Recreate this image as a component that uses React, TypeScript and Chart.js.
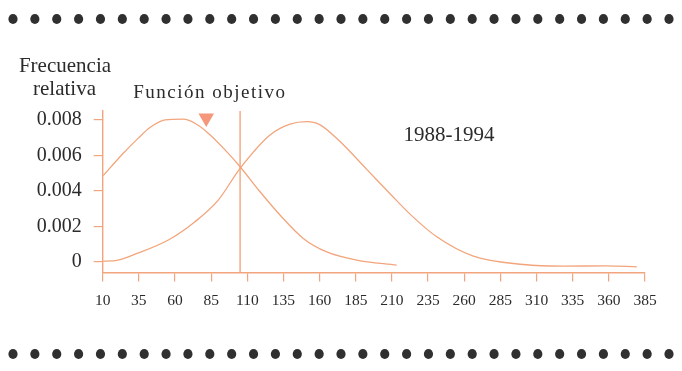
import React, { useEffect, useRef } from "react";
import { Chart, registerables } from "chart.js";

Chart.register(...registerables);

// ---- data ----
const xTicks = [10, 35, 60, 85, 110, 135, 160, 185, 210, 235, 260, 285, 310, 335, 360, 385];
const yTicks = [0, 0.002, 0.004, 0.006, 0.008];
const yTickLabels = ["0", "0.002", "0.004", "0.006", "0.008"];

// left curve
const curveAX = [10.4, 23.1, 34.6, 42.7, 53.1, 65.7, 73.8, 83.0, 94.6, 105.0, 118.8, 132.6, 148.7, 164.9, 185.6, 213.3];
const curveAY = [0.00486, 0.00602, 0.00697, 0.00757, 0.008, 0.00804, 0.00781, 0.00725, 0.00631, 0.00536, 0.00395, 0.00264, 0.00132, 0.00056, 0.0001, -0.00019];

// right curve (1988-1994)
const curveBX = [10.4, 17.3, 34.6, 55.4, 73.8, 89.9, 105.0, 125.7, 139.5, 151.1, 160.3, 174.1, 192.6, 208.7, 222.5, 241.0, 266.3, 300.9, 328.6, 358.6, 379.3];
const curveBY = [0.00004, 0.00005, 0.0005, 0.00123, 0.00226, 0.00348, 0.00527, 0.00715, 0.00776, 0.0079, 0.00772, 0.00678, 0.00521, 0.00384, 0.00269, 0.00141, 0.00032, -0.00015, -0.00024, -0.00023, -0.00028];

const objectiveX = 105;
const objectiveTop = 0.0085;
const markerX = 81.6;
const markerY = 0.0081;

const yMin = -0.0006;
const yMax = 0.0085;
const xMin = 10;
const xMax = 385;

const seriesLabel = "1988-1994";
const seriesLabelX = 249.5;
const seriesLabelY = 0.00683;
const yTitleLines = ["Frecuencia", "relativa"];
const markerTitle = "Función objetivo";

// ---- styles ----
const ORANGE = "#F2A57C";
const MARKER = "#F4977A";
const TEXT = "#2b2b2b";
const FONT = "'Liberation Serif', 'Times New Roman', serif";

const decorPlugin = {
  id: "decor",
  afterDraw(chart: any) {
    const ctx = chart.ctx as CanvasRenderingContext2D;
    const w = chart.width;
    ctx.save();
    // dotted borders
    ctx.fillStyle = "#303030";
    const n = 31;
    const start = 13;
    const step = (w - 2 * start) / (n - 1);
    for (const cy of [19, 354]) {
      for (let i = 0; i < n; i++) {
        ctx.beginPath();
        ctx.ellipse(start + i * step, cy, 4.6, 5.1, 0, 0, Math.PI * 2);
        ctx.fill();
      }
    }
    // y axis title
    ctx.fillStyle = TEXT;
    ctx.textBaseline = "alphabetic";
    ctx.textAlign = "center";
    ctx.font = `21px ${FONT}`;
    ctx.fillText(yTitleLines[0], 65, 71.5);
    ctx.fillText(yTitleLines[1], 64.5, 95);
    // marker title
    ctx.textAlign = "left";
    ctx.font = `19px ${FONT}`;
    try { (ctx as any).letterSpacing = "1.5px"; } catch (e) {}
    ctx.fillText(markerTitle, 133.3, 98.3);
    try { (ctx as any).letterSpacing = "0px"; } catch (e) {}
    // series label
    const xs = chart.scales.x;
    const ys = chart.scales.y;
    ctx.textAlign = "center";
    ctx.font = `21px ${FONT}`;
    ctx.fillText(seriesLabel, xs.getPixelForValue(seriesLabelX), ys.getPixelForValue(seriesLabelY));
    ctx.restore();
  },
};

export default function App() {
  const ref = useRef<HTMLCanvasElement | null>(null);

  useEffect(() => {
    if (!ref.current) return;
    const lineBase = {
      type: "line" as const,
      borderColor: ORANGE,
      borderWidth: 1.3,
      pointRadius: 0,
      fill: false,
      tension: 0.4,
      cubicInterpolationMode: "monotone" as const,
      clip: false as const,
    };
    const chart = new Chart(ref.current, {
      type: "line",
      data: {
        datasets: [
          { ...lineBase, label: "A", data: curveAX.map((x, i) => ({ x, y: curveAY[i] })) },
          { ...lineBase, label: seriesLabel, data: curveBX.map((x, i) => ({ x, y: curveBY[i] })) },
          {
            ...lineBase,
            label: "objetivo",
            tension: 0,
            cubicInterpolationMode: "default" as const,
            borderWidth: 1.4,
            data: [
              { x: objectiveX, y: yMin },
              { x: objectiveX, y: objectiveTop },
            ],
          },
          {
            type: "scatter" as const,
            label: "marker",
            data: [{ x: markerX, y: markerY }],
            pointStyle: "triangle",
            rotation: 180,
            pointRadius: 9,
            backgroundColor: MARKER,
            borderWidth: 0,
            showLine: false,
            clip: false as const,
          } as any,
        ],
      },
      options: {
        responsive: false,
        animation: false,
        devicePixelRatio: 1,
        layout: { padding: { left: 0, top: 111, right: 37, bottom: 58.5 } },
        plugins: {
          legend: { display: false },
          tooltip: { enabled: false },
        },
        scales: {
          x: {
            type: "linear",
            min: xMin,
            max: xMax,
            afterBuildTicks: (s: any) => {
              s.ticks = xTicks.map((v) => ({ value: v }));
            },
            afterFit: (s: any) => {
              s.height = 40;
            },
            grid: {
              display: true,
              drawOnChartArea: false,
              drawTicks: true,
              tickLength: 9,
              color: ORANGE,
              lineWidth: 1.2,
            },
            border: { display: true, color: ORANGE, width: 1.4 },
            ticks: {
              autoSkip: false,
              maxRotation: 0,
              color: TEXT,
              padding: 10,
              font: { family: FONT, size: 15.5 },
              callback: (v: any) => String(v),
            },
          },
          y: {
            type: "linear",
            min: yMin,
            max: yMax,
            afterBuildTicks: (s: any) => {
              s.ticks = yTicks.map((v) => ({ value: v }));
            },
            afterFit: (s: any) => {
              s.width = 102.7;
            },
            grid: {
              display: true,
              drawOnChartArea: false,
              drawTicks: true,
              tickLength: 9,
              color: ORANGE,
              lineWidth: 1.2,
            },
            border: { display: true, color: ORANGE, width: 1.4 },
            ticks: {
              autoSkip: false,
              color: TEXT,
              padding: 12,
              font: { family: FONT, size: 20 },
              callback: (v: any) => {
                const i = yTicks.indexOf(v);
                return i >= 0 ? yTickLabels[i] : "";
              },
            },
          },
        },
      },
      plugins: [decorPlugin],
    } as any);
    return () => chart.destroy();
  }, []);

  return (
    <div style={{ position: "fixed", left: 0, top: 0, width: 682, height: 371, background: "#ffffff" }}>
      <canvas ref={ref} width={682} height={371} style={{ display: "block" }} />
    </div>
  );
}
